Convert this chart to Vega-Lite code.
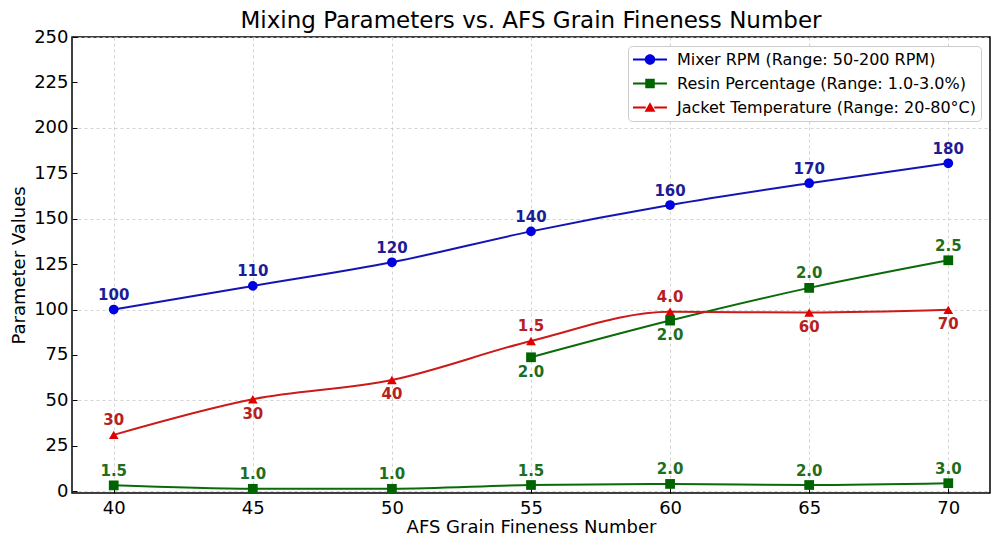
{
  "$schema": "https://vega.github.io/schema/vega-lite/v6.json",
  "width": 918,
  "height": 456,
  "autosize": {"type": "none"},
  "padding": {"left": 72, "top": 37, "right": 10, "bottom": 52},
  "background": "white",
  "title": {"text": "Mixing Parameters vs. AFS Grain Fineness Number", "font": "DejaVu Sans", "fontSize": 23, "fontWeight": "normal", "color": "#000000", "anchor": "middle", "offset": -5},
  "config": {
    "font": "DejaVu Sans",
    "view": {"stroke": "#000000", "strokeWidth": 1.5},
    "legend": {
      "title": null,
      "orient": "top-right",
      "offset": 9,
      "padding": 5,
      "fillColor": "white",
      "strokeColor": "#cccccc",
      "cornerRadius": 4,
      "labelFont": "DejaVu Sans",
      "labelFontSize": 16,
      "labelColor": "#000000",
      "labelLimit": 500,
      "symbolSize": 289,
      "symbolOffset": 8.5,
      "labelOffset": 18.5,
      "rowPadding": 7,
      "symbolStrokeWidth": 0,
      "symbolOpacity": 1
    }
  },
  "data": {
    "values": [
      {"afs": 40, "value": 100, "series": "Mixer RPM (Range: 50-200 RPM)", "seg": "a", "label": "100", "pos": "above"},
      {"afs": 45, "value": 113, "series": "Mixer RPM (Range: 50-200 RPM)", "seg": "a", "label": "110", "pos": "above"},
      {"afs": 50, "value": 126, "series": "Mixer RPM (Range: 50-200 RPM)", "seg": "a", "label": "120", "pos": "above"},
      {"afs": 55, "value": 143, "series": "Mixer RPM (Range: 50-200 RPM)", "seg": "a", "label": "140", "pos": "above"},
      {"afs": 60, "value": 157.5, "series": "Mixer RPM (Range: 50-200 RPM)", "seg": "a", "label": "160", "pos": "above"},
      {"afs": 65, "value": 169.5, "series": "Mixer RPM (Range: 50-200 RPM)", "seg": "a", "label": "170", "pos": "above"},
      {"afs": 70, "value": 180.5, "series": "Mixer RPM (Range: 50-200 RPM)", "seg": "a", "label": "180", "pos": "above"},
      {"afs": 40, "value": 3.2, "series": "Resin Percentage (Range: 1.0-3.0%)", "seg": "a", "label": "1.5", "pos": "above"},
      {"afs": 45, "value": 1.3, "series": "Resin Percentage (Range: 1.0-3.0%)", "seg": "a", "label": "1.0", "pos": "above"},
      {"afs": 50, "value": 1.3, "series": "Resin Percentage (Range: 1.0-3.0%)", "seg": "a", "label": "1.0", "pos": "above"},
      {"afs": 55, "value": 3.4, "series": "Resin Percentage (Range: 1.0-3.0%)", "seg": "a", "label": "1.5", "pos": "above"},
      {"afs": 60, "value": 4.0, "series": "Resin Percentage (Range: 1.0-3.0%)", "seg": "a", "label": "2.0", "pos": "above"},
      {"afs": 65, "value": 3.4, "series": "Resin Percentage (Range: 1.0-3.0%)", "seg": "a", "label": "2.0", "pos": "above"},
      {"afs": 70, "value": 4.4, "series": "Resin Percentage (Range: 1.0-3.0%)", "seg": "a", "label": "3.0", "pos": "above"},
      {"afs": 55, "value": 73.7, "series": "Resin Percentage (Range: 1.0-3.0%)", "seg": "b", "label": "2.0", "pos": "below"},
      {"afs": 60, "value": 93.9, "series": "Resin Percentage (Range: 1.0-3.0%)", "seg": "b", "label": "2.0", "pos": "below"},
      {"afs": 65, "value": 111.9, "series": "Resin Percentage (Range: 1.0-3.0%)", "seg": "b", "label": "2.0", "pos": "above"},
      {"afs": 70, "value": 127.1, "series": "Resin Percentage (Range: 1.0-3.0%)", "seg": "b", "label": "2.5", "pos": "above"},
      {"afs": 40, "value": 31, "series": "Jacket Temperature (Range: 20-80°C)", "seg": "a", "label": "30", "pos": "above"},
      {"afs": 45, "value": 50.6, "series": "Jacket Temperature (Range: 20-80°C)", "seg": "a", "label": "30", "pos": "below"},
      {"afs": 50, "value": 61.2, "series": "Jacket Temperature (Range: 20-80°C)", "seg": "a", "label": "40", "pos": "below"},
      {"afs": 55, "value": 82.7, "series": "Jacket Temperature (Range: 20-80°C)", "seg": "a", "label": "1.5", "pos": "above"},
      {"afs": 60, "value": 98.8, "series": "Jacket Temperature (Range: 20-80°C)", "seg": "a", "label": "4.0", "pos": "above"},
      {"afs": 65, "value": 98.3, "series": "Jacket Temperature (Range: 20-80°C)", "seg": "a", "label": "60", "pos": "below"},
      {"afs": 70, "value": 99.8, "series": "Jacket Temperature (Range: 20-80°C)", "seg": "a", "label": "70", "pos": "below"}
    ]
  },
  "encoding": {
    "x": {
      "field": "afs", "type": "quantitative",
      "scale": {"domain": [38.5, 71.5], "nice": false, "zero": false},
      "axis": {
        "values": [40, 45, 50, 55, 60, 65, 70],
        "title": "AFS Grain Fineness Number",
        "titleFont": "DejaVu Sans", "titleFontSize": 18, "titleFontWeight": "normal", "titleColor": "#000000", "titlePadding": 1,
        "labelFont": "DejaVu Sans", "labelFontSize": 18, "labelColor": "#000000", "labelPadding": 11,
        "grid": true, "gridDash": [3, 3], "gridColor": "#c8c8c8", "gridWidth": 0.8,
        "domain": false, "ticks": true, "tickSize": -5, "tickColor": "#000000", "tickWidth": 1
      }
    },
    "y": {
      "field": "value", "type": "quantitative",
      "scale": {"domain": [-1, 250], "nice": false, "zero": false},
      "axis": {
        "values": [0, 25, 50, 75, 100, 125, 150, 175, 200, 225, 250],
        "title": "Parameter Values",
        "titleFont": "DejaVu Sans", "titleFontSize": 18, "titleFontWeight": "normal", "titleColor": "#000000", "titlePadding": 5,
        "labelFont": "DejaVu Sans", "labelFontSize": 18, "labelColor": "#000000", "labelPadding": 9,
        "grid": true, "gridDash": [3, 3], "gridColor": "#c8c8c8", "gridWidth": 0.8,
        "gridOpacity": {"condition": {"test": "datum.value % 50 === 0", "value": 1}, "value": 0},
        "domain": false, "ticks": true, "tickSize": -5, "tickColor": "#000000", "tickWidth": 1
      }
    }
  },
  "layer": [
    {
      "mark": {"type": "line", "strokeWidth": 2, "interpolate": "monotone"},
      "encoding": {
        "stroke": {"field": "series", "type": "nominal", "legend": null,
          "scale": {"domain": ["Mixer RPM (Range: 50-200 RPM)", "Resin Percentage (Range: 1.0-3.0%)", "Jacket Temperature (Range: 20-80°C)"], "range": ["#1414b4", "#0b6b0b", "#cc1a1a"]}},
        "detail": {"field": "seg", "type": "nominal"}
      }
    },
    {
      "mark": {"type": "point", "filled": true, "opacity": 1, "size": 95, "strokeWidth": 0},
      "encoding": {
        "color": {"field": "series", "type": "nominal", "legend": null,
          "scale": {"domain": ["Mixer RPM (Range: 50-200 RPM)", "Resin Percentage (Range: 1.0-3.0%)", "Jacket Temperature (Range: 20-80°C)"], "range": ["#0000e0", "#006400", "#e00000"]}},
        "shape": {"field": "series", "type": "nominal", "legend": null,
          "scale": {"domain": ["Mixer RPM (Range: 50-200 RPM)", "Resin Percentage (Range: 1.0-3.0%)", "Jacket Temperature (Range: 20-80°C)"], "range": ["circle", "square", "triangle-up"]}}
      }
    },
    {
      "transform": [{"filter": "datum.pos === 'above'"}],
      "mark": {"type": "text", "font": "DejaVu Sans", "fontSize": 15, "fontWeight": "bold", "align": "center", "baseline": "middle", "dy": -14.5},
      "encoding": {
        "text": {"field": "label", "type": "nominal"},
        "fill": {"field": "series", "type": "nominal", "legend": null,
          "scale": {"domain": ["Mixer RPM (Range: 50-200 RPM)", "Resin Percentage (Range: 1.0-3.0%)", "Jacket Temperature (Range: 20-80°C)"], "range": ["#1c1c96", "#1e6e1e", "#b82020"]}}
      }
    },
    {
      "transform": [{"filter": "datum.pos === 'below'"}],
      "mark": {"type": "text", "font": "DejaVu Sans", "fontSize": 15, "fontWeight": "bold", "align": "center", "baseline": "middle", "dy": 14.5},
      "encoding": {
        "text": {"field": "label", "type": "nominal"},
        "fill": {"field": "series", "type": "nominal", "legend": null,
          "scale": {"domain": ["Mixer RPM (Range: 50-200 RPM)", "Resin Percentage (Range: 1.0-3.0%)", "Jacket Temperature (Range: 20-80°C)"], "range": ["#1c1c96", "#1e6e1e", "#b82020"]}}
      }
    },
    {
      "mark": {"type": "point", "filled": true, "opacity": 0, "size": 289, "strokeWidth": 0},
      "encoding": {
        "color": {"field": "series", "type": "nominal",
          "scale": {"domain": ["Mixer RPM (Range: 50-200 RPM)", "Resin Percentage (Range: 1.0-3.0%)", "Jacket Temperature (Range: 20-80°C)"], "range": ["#0000e0", "#006400", "#e00000"]},
          "legend": {"title": null, "symbolOpacity": 1, "encode": {"symbols": {"update": {"opacity": {"value": 1}}}}}},
        "shape": {"field": "series", "type": "nominal",
          "scale": {"domain": ["Mixer RPM (Range: 50-200 RPM)", "Resin Percentage (Range: 1.0-3.0%)", "Jacket Temperature (Range: 20-80°C)"],
            "range": [
              "M-2,-0.12H-0.55V0.12H-2Z M0.55,-0.12H2V0.12H0.55Z M0.62,0A0.62,0.62,0,1,1,-0.62,0A0.62,0.62,0,1,1,0.62,0Z",
              "M-2,-0.12H-0.55V0.12H-2Z M0.55,-0.12H2V0.12H0.55Z M-0.56,-0.56H0.56V0.56H-0.56Z",
              "M-2,-0.12H-0.5V0.12H-2Z M0.5,-0.12H2V0.12H0.5Z M0,-0.62L0.64,0.5L-0.64,0.5Z"
            ]},
          "legend": {"title": null, "symbolOpacity": 1, "encode": {"symbols": {"update": {"opacity": {"value": 1}}}}}}
      }
    }
  ],
  "resolve": {"scale": {"shape": "independent"}, "legend": {"color": "independent", "shape": "independent"}}
}
